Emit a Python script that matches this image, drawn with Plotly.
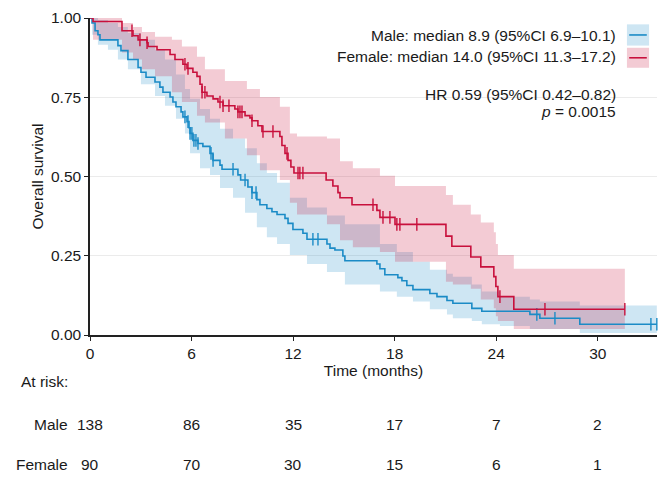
import plotly.graph_objects as go
import bisect

# ---------------- data ----------------
male_t = [0, 0.12, 0.30, 0.47, 0.59, 1.65, 1.83, 2.24, 2.84, 3.01, 3.31, 3.84, 4.13, 4.31, 4.73,
          4.90, 5.08, 5.38, 5.49, 5.73, 5.85, 5.91, 6.08, 6.38, 6.67, 7.09, 7.27, 7.68, 7.80, 8.74,
          8.90, 9.33, 9.57, 9.86, 10.04, 10.45, 10.75, 11.05, 11.52, 11.70, 11.99, 12.58, 12.82,
          14.00, 14.18, 14.47, 14.94, 15.06, 16.95, 17.13, 17.42, 18.19, 18.43, 18.72, 19.08,
          20.08, 20.50, 21.09, 21.44, 22.56, 23.15, 25.99, 26.58, 28.94]
male_s = [1.000, 0.984, 0.960, 0.947, 0.931, 0.913, 0.897, 0.869, 0.844, 0.829, 0.813, 0.798, 0.782,
          0.766, 0.751, 0.735, 0.720, 0.704, 0.688, 0.673, 0.654, 0.636, 0.614, 0.604, 0.595, 0.573,
          0.551, 0.536, 0.523, 0.505, 0.489, 0.467, 0.449, 0.427, 0.411, 0.399, 0.389, 0.380, 0.368,
          0.352, 0.333, 0.321, 0.302, 0.287, 0.274, 0.268, 0.249, 0.234, 0.224, 0.209, 0.190, 0.181,
          0.171, 0.156, 0.143, 0.131, 0.121, 0.109, 0.100, 0.084, 0.075, 0.065, 0.053, 0.034]
male_end = 33.49
male_censor = [5.61, 5.79, 5.91, 6.02, 6.14, 6.26, 6.38, 7.15, 7.27, 8.45, 9.16, 9.57, 9.81,
               13.17, 13.47, 26.40, 27.47, 33.14, 33.49]

male_ci_t = [0, 0.12, 0.47, 1.06, 1.65, 2.24, 3.01, 3.84, 4.43, 5.08, 5.61, 5.91, 6.50, 7.09, 7.68,
             8.45, 9.16, 9.86, 10.45, 11.05, 11.81, 12.82, 14.00, 15.06, 17.13, 18.13, 19.08, 20.08,
             21.09, 21.44, 22.56, 23.15, 24.22, 25.99, 26.58, 28.94]
male_hi = [1.000, 1.000, 0.994, 0.984, 0.972, 0.953, 0.931, 0.900, 0.869, 0.822, 0.776, 0.745, 0.713,
           0.682, 0.651, 0.620, 0.589, 0.542, 0.511, 0.480, 0.433, 0.402, 0.377, 0.349, 0.287, 0.262,
           0.231, 0.206, 0.193, 0.184, 0.159, 0.137, 0.121, 0.112, 0.106, 0.093]
male_lo = [1.000, 0.947, 0.916, 0.900, 0.869, 0.838, 0.791, 0.754, 0.723, 0.682, 0.636, 0.573, 0.526,
           0.505, 0.464, 0.433, 0.386, 0.340, 0.308, 0.287, 0.252, 0.224, 0.199, 0.159, 0.137, 0.121,
           0.106, 0.081, 0.065, 0.053, 0.044, 0.034, 0.028, 0.019, 0.019, 0.006]

female_t = [0, 0.18, 1.89, 2.54, 2.84, 3.37, 3.43, 3.96, 4.73, 5.02, 5.49, 5.73, 6.08, 6.32, 6.50,
            6.62, 6.91, 7.27, 7.56, 7.86, 8.56, 8.74, 9.16, 9.45, 9.57, 9.92, 10.16, 11.22, 11.34,
            11.52, 11.70, 11.87, 12.05, 13.95, 14.35, 14.65, 14.77, 15.48, 16.95, 17.13, 18.02,
            21.03, 21.38, 22.50, 23.09, 23.86, 23.98, 24.10, 25.04]
female_s = [1.000, 0.989, 0.960, 0.944, 0.931, 0.922, 0.910, 0.900, 0.885, 0.869, 0.854, 0.841, 0.829,
            0.816, 0.791, 0.766, 0.754, 0.745, 0.735, 0.723, 0.713, 0.704, 0.692, 0.685, 0.676, 0.660,
            0.642, 0.626, 0.598, 0.573, 0.551, 0.530, 0.511, 0.489, 0.470, 0.449, 0.433, 0.411, 0.393,
            0.371, 0.349, 0.312, 0.280, 0.246, 0.215, 0.184, 0.153, 0.121, 0.081]
female_end = 31.60
female_censor = [2.48, 2.95, 3.37, 5.61, 5.79, 6.62, 6.79, 7.68, 7.86, 8.21, 8.74, 8.86, 8.98, 9.57,
                 10.22, 10.81, 11.64, 12.29, 12.40, 12.58, 16.72, 17.31, 17.72, 18.13, 18.31, 19.31,
                 24.22, 26.88, 31.60]

female_ci_t = [0, 0.18, 1.89, 2.54, 3.07, 3.84, 4.84, 5.43, 6.32, 6.79, 7.97, 9.27, 10.04, 11.22,
               11.81, 12.23, 14.00, 14.77, 15.53, 17.13, 18.02, 21.03, 21.44, 22.50, 23.09, 23.86,
               23.98, 24.10, 25.04]
female_hi = [1.000, 1.000, 0.984, 0.972, 0.956, 0.941, 0.931, 0.910, 0.878, 0.838, 0.801, 0.776, 0.751,
             0.720, 0.636, 0.626, 0.620, 0.548, 0.526, 0.502, 0.470, 0.442, 0.411, 0.380, 0.355, 0.324,
             0.287, 0.252, 0.209]
female_lo = [1.000, 0.931, 0.891, 0.869, 0.838, 0.816, 0.766, 0.735, 0.692, 0.670, 0.620, 0.567, 0.520,
             0.489, 0.417, 0.380, 0.349, 0.299, 0.277, 0.262, 0.231, 0.168, 0.159, 0.146, 0.112, 0.084,
             0.059, 0.044, 0.019]

risk_times = [0, 6, 12, 18, 24, 30]
male_risk = [138, 86, 35, 17, 7, 2]
female_risk = [90, 70, 30, 15, 6, 1]

male_label = "Male: median 8.9 (95%CI 6.9\u201310.1)"
female_label = "Female: median 14.0 (95%CI 11.3\u201317.2)"
hr_label = "HR 0.59 (95%CI 0.42\u20130.82)"
p_label = "<i>p</i> = 0.0015"

# ---------------- styles ----------------
BLUE = "#1b8bc6"
RED = "#c8103c"
BLUE_FILL = "rgba(30,140,200,0.22)"
RED_FILL = "rgba(200,16,60,0.22)"
FONT = "Liberation Sans, Arial, sans-serif"
TXT = "#1a1a1a"
FS = 15.5


def surv_at(t, times, surv):
    i = bisect.bisect_right(times, t) - 1
    return surv[max(i, 0)]


fig = go.Figure()


def add_band(ci_t, lo, hi, end, fill):
    xs = ci_t + [end]
    fig.add_trace(go.Scatter(x=xs, y=lo + [lo[-1]], mode="lines", line=dict(width=0, shape="hv"),
                             hoverinfo="skip", showlegend=False))
    fig.add_trace(go.Scatter(x=xs, y=hi + [hi[-1]], mode="lines", line=dict(width=0, shape="hv"),
                             fill="tonexty", fillcolor=fill, hoverinfo="skip", showlegend=False))


add_band(male_ci_t, male_lo, male_hi, male_end, BLUE_FILL)
add_band(female_ci_t, female_lo, female_hi, female_end, RED_FILL)


def add_curve(times, surv, end, censor, color, name):
    fig.add_trace(go.Scatter(x=times + [end], y=surv + [surv[-1]], mode="lines",
                             line=dict(color=color, width=1.6, shape="hv"), name=name, showlegend=False))
    fig.add_trace(go.Scatter(x=censor, y=[surv_at(c, times, surv) for c in censor], mode="markers",
                             marker=dict(symbol="line-ns-open", size=9, color=color,
                                         line=dict(color=color, width=1.4)),
                             showlegend=False, cliponaxis=False))


add_curve(male_t, male_s, male_end, male_censor, BLUE, "Male")
add_curve(female_t, female_s, female_end, female_censor, RED, "Female")

# legend-like annotations (text right, key box to the right)
ann = []
for txt, yp in [(male_label, 0.945), (female_label, 0.878), (hr_label, 0.760), (p_label, 0.706)]:
    ann.append(dict(text=txt, xref="paper", yref="paper", x=0.932, y=yp, xanchor="right",
                    yanchor="middle", showarrow=False, font=dict(size=FS, color=TXT, family=FONT)))

shapes = []
for (y0, y1, fill, col) in [(0.913, 0.980, BLUE_FILL, BLUE), (0.843, 0.906, RED_FILL, RED)]:
    shapes.append(dict(type="rect", xref="paper", yref="paper", x0=0.947, x1=0.986, y0=y0, y1=y1,
                       fillcolor=fill, line=dict(width=0)))
    ym = (y0 + y1) / 2
    shapes.append(dict(type="line", xref="paper", yref="paper", x0=0.951, x1=0.982, y0=ym, y1=ym,
                       line=dict(color=col, width=1.6)))

# at-risk table
ann.append(dict(text="At risk:", xref="paper", yref="paper", x=-0.125, y=-0.148, xanchor="left",
                yanchor="middle", showarrow=False, font=dict(size=FS, color=TXT, family=FONT)))
for label, vals, yp in [("Male", male_risk, -0.281), ("Female", female_risk, -0.407)]:
    ann.append(dict(text=label, xref="paper", yref="paper", x=-0.036, y=yp, xanchor="right",
                    yanchor="middle", showarrow=False, font=dict(size=FS, color=TXT, family=FONT)))
    for tt, v in zip(risk_times, vals):
        ann.append(dict(text=str(v), xref="x", yref="paper", x=tt, y=yp, xanchor="center",
                        yanchor="middle", showarrow=False, font=dict(size=FS, color=TXT, family=FONT)))

fig.update_layout(
    width=672, height=480,
    margin=dict(l=82, r=23, t=10, b=153, autoexpand=False),
    paper_bgcolor="white", plot_bgcolor="white",
    font=dict(family=FONT, size=FS, color=TXT),
    annotations=ann, shapes=shapes,
    showlegend=False,
)
fig.update_xaxes(range=[0, 33.5], tickvals=risk_times, ticks="outside", ticklen=4, tickwidth=1.3,
                 tickcolor="#222", showline=True, linecolor="#222", linewidth=1.5, showgrid=False,
                 zeroline=False, automargin=False, ticklabeloverflow="allow",
                 title=dict(text="Time (months)", standoff=0, font=dict(size=FS, family=FONT, color=TXT)),
                 tickfont=dict(size=FS, color=TXT, family=FONT))
fig.update_yaxes(range=[0, 1.0], tickvals=[0, 0.25, 0.5, 0.75, 1.0],
                 ticktext=["0.00", "0.25", "0.50", "0.75", "1.00"], ticks="outside", ticklen=4,
                 tickwidth=1.3, tickcolor="#222", showline=True, linecolor="#222", linewidth=1.5,
                 showgrid=True, gridcolor="#ebebeb", gridwidth=1, zeroline=False, automargin=False,
                 ticklabeloverflow="allow",
                 title=dict(text="Overall survival", standoff=4, font=dict(size=FS, family=FONT, color=TXT)),
                 tickfont=dict(size=FS, color=TXT, family=FONT))

fig.write_html("out.html")
